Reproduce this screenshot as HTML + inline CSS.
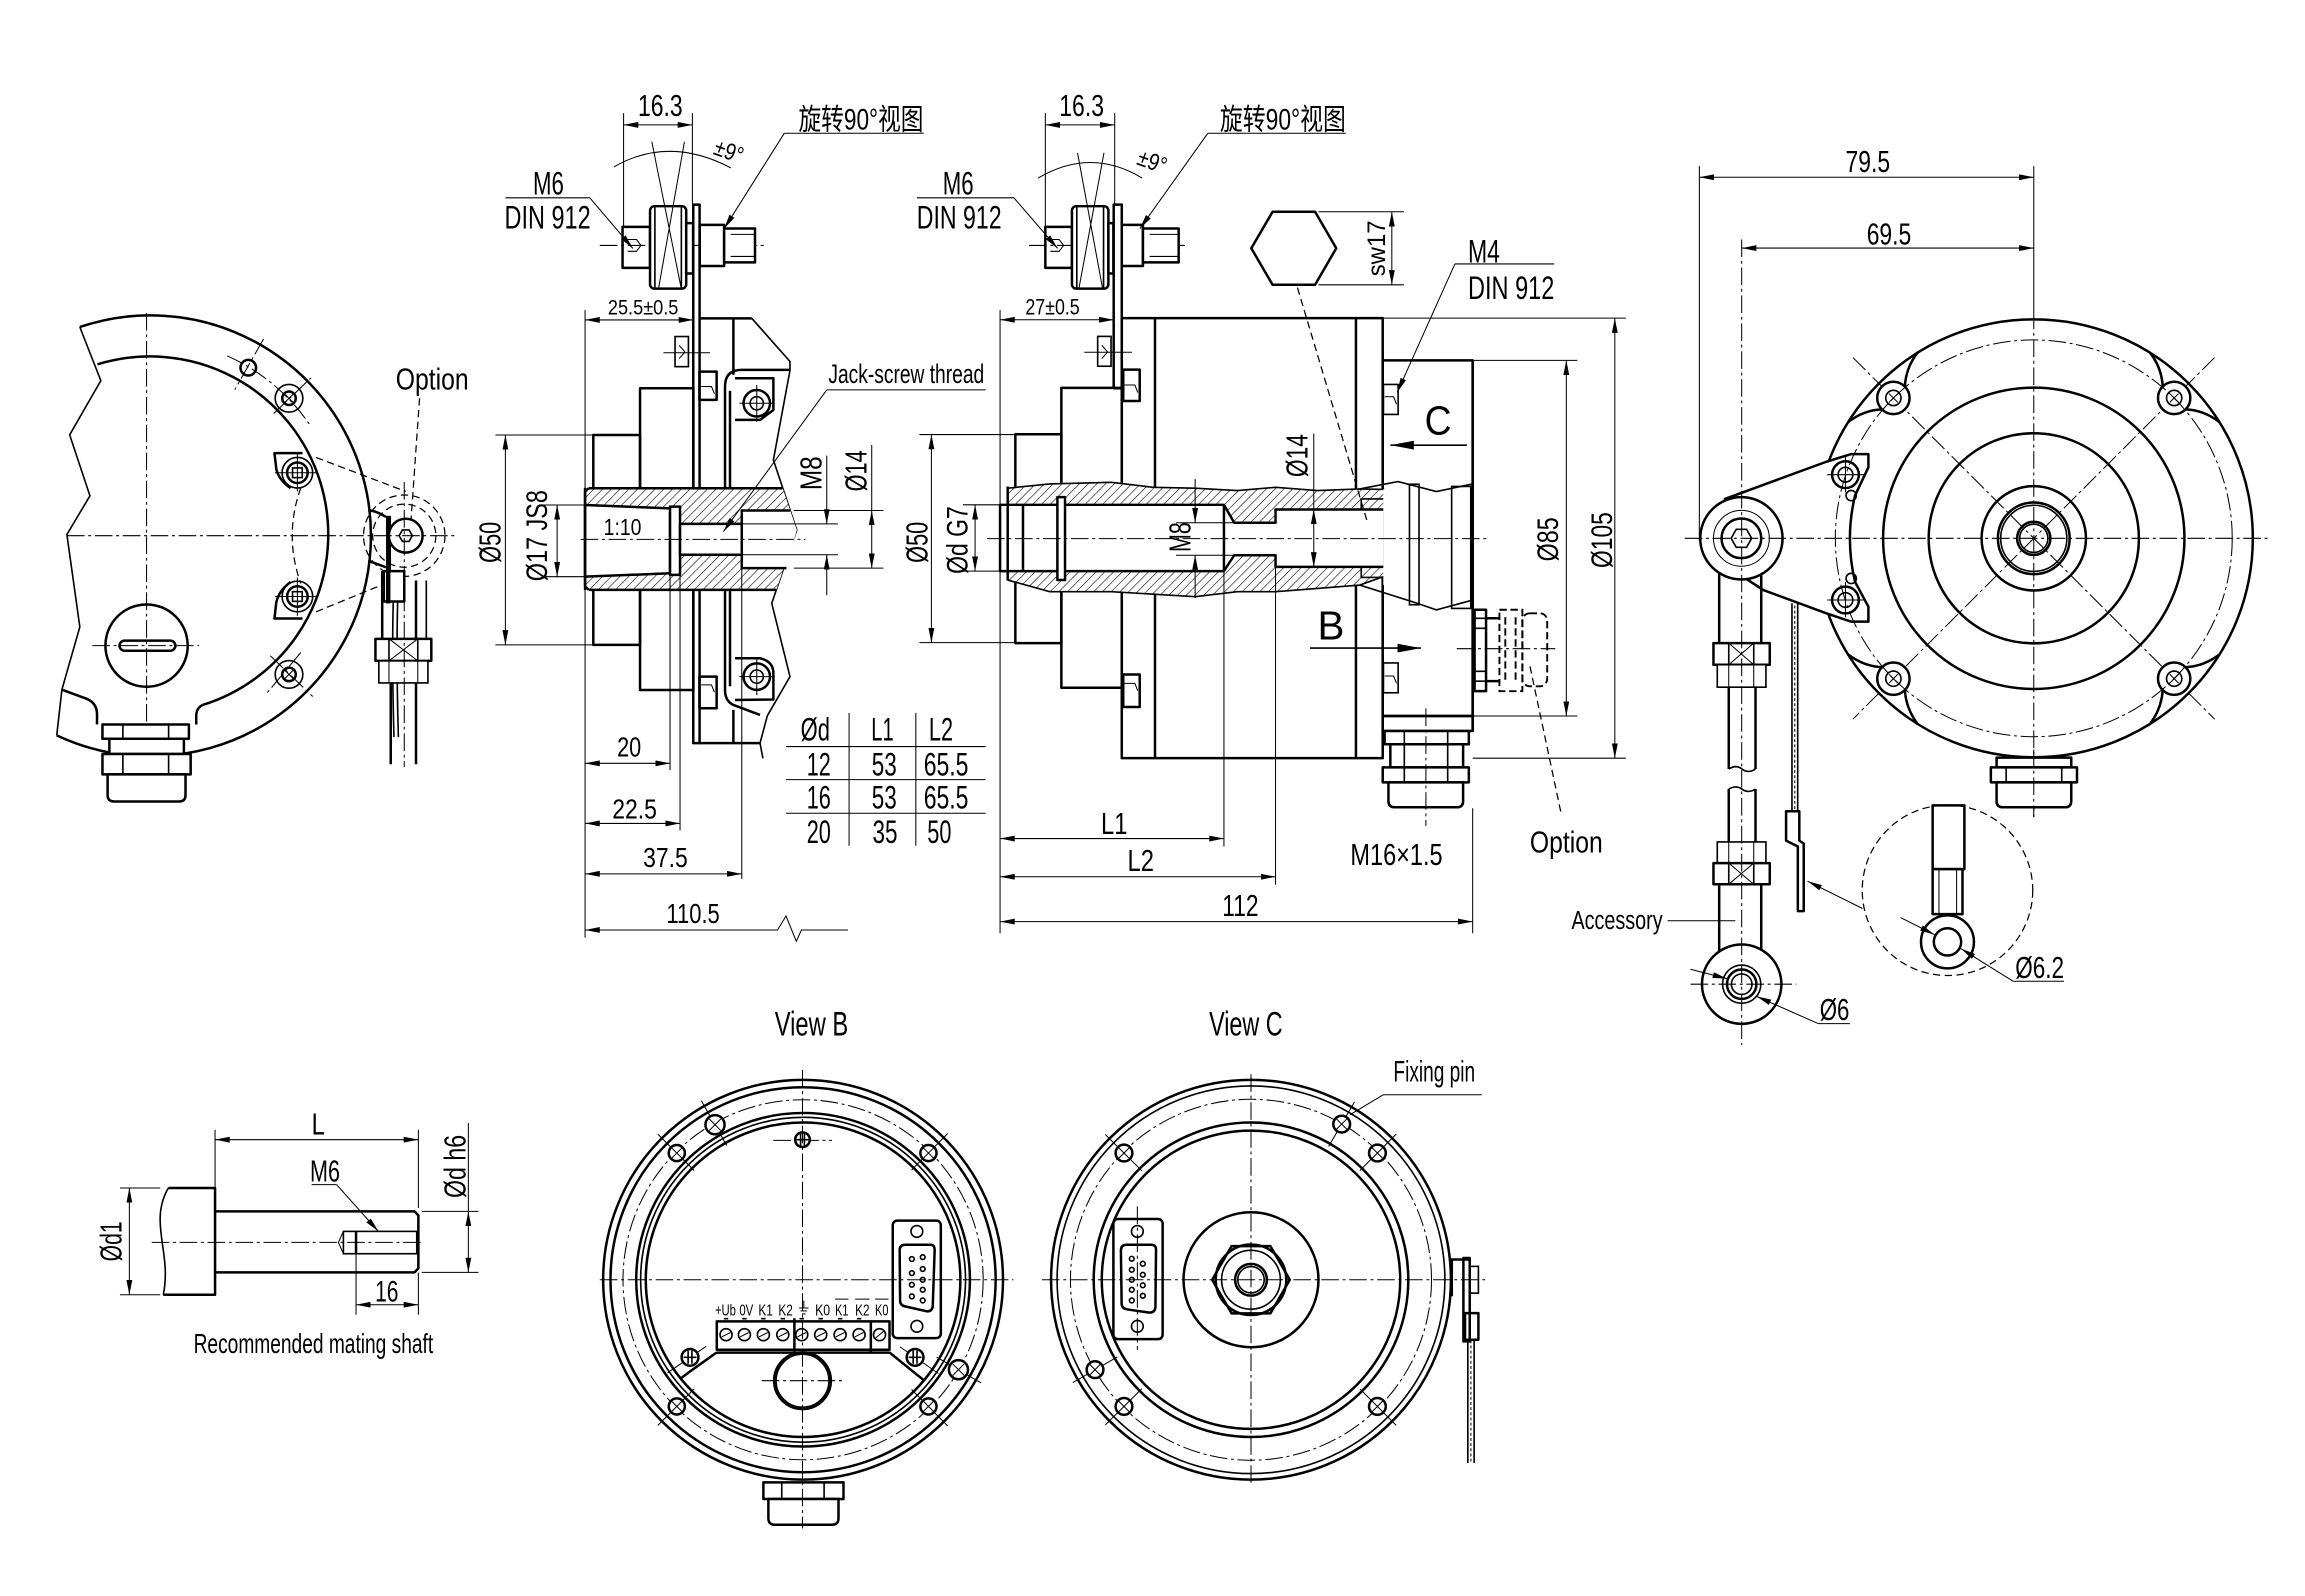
<!DOCTYPE html>
<html><head><meta charset="utf-8">
<style>
html,body{margin:0;padding:0;background:#fff;}
svg{display:block}
.k{stroke:#000;stroke-width:1.7;fill:none;stroke-linejoin:round}
.kw{stroke:#000;stroke-width:1.7;fill:#fff;stroke-linejoin:round}
.m{stroke:#000;stroke-width:1.1;fill:none}
.mw{stroke:#000;stroke-width:1.1;fill:#fff}
.h{stroke:#000;stroke-width:0.7;fill:none}
.c{stroke:#000;stroke-width:0.7;fill:none;stroke-dasharray:12 2.5 2 2.5}
.d{stroke:#000;stroke-width:0.85;fill:none;stroke-dasharray:5 3}
.dk{stroke:#000;stroke-width:1.3;fill:none;stroke-dasharray:5 2.5}
text{font-family:"Liberation Sans","Noto Sans CJK SC",sans-serif;fill:#000}
</style></head><body>
<svg width="2305" height="1596" viewBox="0 0 1568 1086" preserveAspectRatio="none" xmlns="http://www.w3.org/2000/svg">
<defs>
<marker id="a" viewBox="0 0 10 4" refX="10" refY="2" markerWidth="10" markerHeight="4" markerUnits="userSpaceOnUse" orient="auto-start-reverse"><path d="M0,0L10,2L0,4z" fill="#000"/></marker>
<marker id="b" viewBox="0 0 16 6" refX="16" refY="3" markerWidth="16" markerHeight="6" markerUnits="userSpaceOnUse" orient="auto"><path d="M0,0L16,3L0,6z" fill="#000"/></marker>
<pattern id="hp" patternUnits="userSpaceOnUse" width="4.2" height="4.2" patternTransform="rotate(45)"><rect width="4.2" height="4.2" fill="#fff"/><line x1="0" y1="0" x2="0" y2="4.2" stroke="#000" stroke-width="0.8"/></pattern>
<pattern id="dp" patternUnits="userSpaceOnUse" width="3" height="3"><rect width="3" height="3" fill="#fff"/><circle cx="1.5" cy="1.5" r="0.8" fill="#000"/></pattern>
<pattern id="xp" patternUnits="userSpaceOnUse" width="7" height="7"><rect width="7" height="7" fill="#fff"/><path d="M0,0L7,7M7,0L0,7" stroke="#000" stroke-width="0.6"/></pattern>
</defs>
<rect x="0" y="0" width="1568" height="1086" fill="#fff"/>

<!-- ================= LEFT SIDE VIEW ================= -->
<path class="k" d="M54.3,222.5 A150,150 0 1 1 38.6,500.4"/>
<path class="k" d="M66.3,247.9 A121,121 0 0 1 137.8,479.7"/>
<polyline class="m" points="54.3,222.5 68.6,259 47.4,295.9 61.2,337.4 45.5,363.7 54.3,426.6 42.1,469.3 38.6,500.4"/>
<path class="k" d="M42.1,469.3 L59,475.5 Q66,478.5 66,486 L66,493 M133.5,493 L133.5,486 Q134,481.5 137.8,479.7"/>
<circle class="k" cx="99.7" cy="439.3" r="28"/>
<rect class="k" x="81.3" y="435.9" width="38" height="6.9" rx="3.45"/>
<line class="c" x1="62.8" y1="439.3" x2="135.5" y2="439.3"/>
<path class="c" d="M154.5,242.1 A134,134 0 0 1 211.1,289.6"/>
<circle class="k" cx="168.9" cy="250.2" r="5.3"/>
<line class="c" x1="179.3" y1="230.6" x2="159.7" y2="265.2"/>
<circle class="m" cx="196.6" cy="271" r="9.4"/>
<circle class="k" cx="196.6" cy="271" r="4.6"/>
<path class="h" d="M193.4,267.8L199.8,274.2M199.8,267.8L193.4,274.2"/>
<line class="c" x1="186.2" y1="281.4" x2="211.6" y2="257.1"/>
<circle class="m" cx="196.6" cy="458.9" r="9.4"/>
<circle class="k" cx="196.6" cy="458.9" r="4.6"/>
<path class="h" d="M193.4,455.7L199.8,462.1M199.8,455.7L193.4,462.1"/>
<line class="c" x1="183.9" y1="446.2" x2="212.7" y2="473.9"/>
<line class="c" x1="204.6" y1="444" x2="181.6" y2="471.6"/>
<path class="k" d="M205.8,308.3 L186.7,308.3 L188,319.4 Q190,327 197.7,332.1"/>
<path class="k" d="M205.8,420.9 L186.7,420.9 L188,409.5 Q190,401.5 197.7,396"/>
<circle class="m" cx="202.3" cy="321.7" r="10.4"/>
<circle class="k" cx="202.3" cy="321.7" r="7"/>
<rect class="m" x="199" y="318.4" width="6.6" height="6.6"/>
<line class="h" x1="187" y1="321.7" x2="216" y2="321.7"/>
<line class="h" x1="202.3" y1="309" x2="202.3" y2="334.4"/>
<circle class="m" cx="202.3" cy="405.9" r="10.4"/>
<circle class="k" cx="202.3" cy="405.9" r="7"/>
<rect class="m" x="199" y="402.6" width="6.6" height="6.6"/>
<line class="h" x1="187" y1="405.9" x2="216" y2="405.9"/>
<line class="h" x1="202.3" y1="393" x2="202.3" y2="419"/>
<path class="d" d="M204.6,332 Q193,364.5 204.6,397"/>
<line class="d" x1="215" y1="311.3" x2="276" y2="334.4"/>
<line class="d" x1="215" y1="416.3" x2="271.5" y2="393.2"/>
<circle class="d" cx="275" cy="364.5" r="27.7"/>
<circle class="d" cx="275" cy="364.5" r="21.5"/>
<path class="k" d="M250.5,347 Q257,348 262.6,351.8 M250.5,381.5 Q257,384 262.6,386"/>
<path class="m" d="M267.5,409.3 Q266.5,450 268,501.6 M270.5,409.3 Q269.5,450 271,501.6"/>
<line class="k" x1="260" y1="388.6" x2="260" y2="434.7"/>
<line class="k" x1="283" y1="395" x2="283" y2="434.7"/>
<line class="m" x1="290" y1="395" x2="290" y2="434.7"/>
<rect class="kw" x="255.4" y="434.7" width="38" height="15"/>
<path class="m" d="M264.6,434.7V449.7M284.2,434.7V449.7"/>
<path class="h" d="M264.6,434.7L284.2,449.7M284.2,434.7L264.6,449.7"/>
<rect class="mw" x="257.7" y="449.7" width="33.4" height="15"/>
<path class="h" d="M264.6,449.7V464.7M284.2,449.7V464.7"/>
<line class="k" x1="265.8" y1="464.7" x2="265.8" y2="520"/>
<line class="k" x1="283" y1="464.7" x2="283" y2="520"/>
<rect x="262.6" y="351" width="3.4" height="38" fill="#000"/>
<circle class="kw" cx="276" cy="364.5" r="11.5"/>
<polygon class="m" points="280.5,364.5 278.25,368.4 273.75,368.4 271.5,364.5 273.75,360.6 278.25,360.6"/>
<rect class="kw" x="261.1" y="388.6" width="13.9" height="20.7"/>
<rect x="262.6" y="388.6" width="3" height="22" fill="#000"/>
<line class="c" x1="275" y1="328" x2="275" y2="522"/>
<text x="294" y="265" font-size="20.5" text-anchor="middle" textLength="49.6" lengthAdjust="spacingAndGlyphs">Option</text>
<line class="d" x1="285.4" y1="271" x2="279.6" y2="354"/>
<line class="c" x1="99.7" y1="213" x2="99.7" y2="518"/>
<line class="c" x1="45.5" y1="364.5" x2="309.6" y2="364.5"/>
<rect class="kw" x="69.7" y="493" width="58.8" height="9.7"/>
<path class="m" d="M83.6,493V502.7M114.7,493V502.7"/>
<rect class="kw" x="74.4" y="502.7" width="50.7" height="10.4"/>
<rect class="kw" x="69.7" y="513.1" width="60" height="13.8"/>
<path class="m" d="M83.6,513.1V526.9M114.7,513.1V526.9"/>
<path class="kw" d="M73.2,526.9 H126.2 V541 Q126.2,545.4 121.8,545.4 H77.6 Q73.2,545.4 73.2,541 Z"/>

<!-- ================= MIDDLE-LEFT SECTION ================= -->
<line class="c" x1="408" y1="167" x2="520" y2="167"/>
<rect class="k" x="423.5" y="154.4" width="18.7" height="27.9"/>
<path class="h" d="M427,163 L433,163 L436,167 L433,171 L427,171"/>
<rect class="kw" x="442.2" y="140.3" width="24.6" height="56.1" rx="3"/>
<path class="m" d="M445.5,141V196M463.5,141V196"/>
<rect class="kw" x="466.8" y="151.8" width="4.7" height="34.3"/>
<rect class="kw" x="476" y="153" width="16.6" height="28"/>
<rect class="kw" x="492.6" y="155.5" width="21" height="23"/>
<path class="h" d="M497,159.5H513M497,174.5H513"/>
<path class="h" d="M443.4,96.4L463.3,195.7M465.6,96.4L448.1,195.7"/>
<path class="h" d="M424.2,77V154M471,77V139"/>
<line class="h" x1="424.2" y1="85" x2="471" y2="85" marker-start="url(#a)" marker-end="url(#a)"/>
<text x="449.2" y="79" font-size="21" text-anchor="middle" textLength="30.4" lengthAdjust="spacingAndGlyphs">16.3</text>
<path class="h" d="M417.6,113.6 Q455,92 497.2,114.3"/>
<text transform="translate(494,108) rotate(20)" font-size="16" text-anchor="middle" textLength="20" lengthAdjust="spacingAndGlyphs">±9°</text>
<text x="373.1" y="132.5" font-size="22" text-anchor="middle" textLength="21" lengthAdjust="spacingAndGlyphs">M6</text>
<text x="372.5" y="155.5" font-size="22" text-anchor="middle" textLength="58.6" lengthAdjust="spacingAndGlyphs">DIN 912</text>
<polyline class="h" points="343.8,134.6 401.2,134.6 430.5,169" marker-end="url(#a)"/>
<text x="585.7" y="88" font-size="20" text-anchor="middle" textLength="85" lengthAdjust="spacingAndGlyphs">旋转90°视图</text>
<line class="h" x1="533.5" y1="90.7" x2="628.4" y2="90.7"/>
<line class="h" x1="533.5" y1="90.7" x2="492.6" y2="155.6" marker-end="url(#a)"/>
<text x="437.5" y="214" font-size="14.5" text-anchor="middle" textLength="48" lengthAdjust="spacingAndGlyphs">25.5±0.5</text>
<line class="h" x1="398" y1="217.7" x2="471.7" y2="217.7" marker-start="url(#a)" marker-end="url(#a)"/>
<line class="h" x1="398" y1="211" x2="398" y2="638"/>
<!-- body -->
<rect class="k" x="403.6" y="296" width="31.8" height="142.8"/>
<rect class="k" x="435.4" y="264.2" width="36.3" height="205.3"/>
<rect class="k" x="471.6" y="139.2" width="4.3" height="366.5"/>
<line class="k" x1="475.8" y1="216.6" x2="511.4" y2="216.6"/>
<line class="k" x1="475.8" y1="505.7" x2="517" y2="505.7"/>
<path class="k" d="M498.9,216.6V255M498.9,483V505.7"/>
<path class="k" d="M537.4,251.7 L504.6,251.7 Q493.2,251.7 493.2,263 L493.2,469.5 Q493.2,477 498.9,479.7 L517,486.5"/>
<path class="k" d="M496.6,266 L496.6,467"/>
<path class="k" d="M500,257.4 L526.1,257.4 L526.1,279 L517,285.7 L500,285.7"/>
<path class="k" d="M500,447.9 L517,447.9 Q526.1,450 526.1,458 L526.1,476 L500,476.3"/>
<circle class="k" cx="514.8" cy="274.4" r="9"/><circle class="m" cx="514.8" cy="274.4" r="4.5"/>
<path class="h" d="M503,274.4H527M514.8,262V287"/>
<circle class="k" cx="514.8" cy="460.4" r="9"/><circle class="m" cx="514.8" cy="460.4" r="4.5"/>
<path class="h" d="M503,460.4H527M514.8,448V473"/>
<rect class="k" x="475.8" y="252.9" width="11.7" height="19.2"/>
<path class="h" d="M477,263H484L486,268"/>
<rect class="k" x="475.8" y="460.4" width="11.7" height="21.5"/>
<path class="h" d="M477,466H484L486,471"/>
<rect class="m" x="459.2" y="229" width="9.1" height="20.5"/>
<path class="h" d="M462,235L466,239.5L462,244"/>
<line class="h" x1="451.3" y1="240" x2="483" y2="240"/>
<polyline class="m" points="511.4,216.6 537.4,246 537.4,252 526.1,313 542,360.6 525,410.5 537.4,460.4 522,487 517,505.7 519,516"/>
<!-- shaft -->
<polygon points="398,334.5 400.5,332.2 532.4,332.2 542,360.6 528.1,401.4 400.5,401.4 398,399" fill="url(#hp)"/>
<path class="k" d="M400.5,332.2H532.4M400.5,401.4H528.1M400.5,332.2L398,334.5V399L400.5,401.4"/>
<polygon class="kw" points="398,343.6 455.8,345.9 455.8,390.1 398,392.4"/>
<rect class="kw" x="455.8" y="344.7" width="6.8" height="46.5"/>
<rect class="kw" x="462.6" y="356.5" width="42" height="21"/>
<polygon points="504.6,347.4 537.5,347.4 542,360.6 535,386.6 504.6,386.6" fill="#fff"/>
<path class="k" d="M537.5,347.4H504.6V386.6H535"/>
<line class="k" x1="398" y1="332" x2="398" y2="401.5"/>
<text x="423.5" y="364" font-size="16" text-anchor="middle" textLength="25.7" lengthAdjust="spacingAndGlyphs">1:10</text>
<line class="c" x1="395" y1="367" x2="548" y2="367"/>
<!-- dims -->
<path class="h" d="M337,296H403.6M337,438.8H403.6"/>
<line class="h" x1="343.8" y1="296" x2="343.8" y2="438.8" marker-start="url(#a)" marker-end="url(#a)"/>
<text transform="translate(340.5,369) rotate(-90)" font-size="21" text-anchor="middle" textLength="28" lengthAdjust="spacingAndGlyphs">Ø50</text>
<path class="h" d="M370,343.6H398M370,392.4H398"/>
<line class="h" x1="379" y1="343.6" x2="379" y2="392.4" marker-start="url(#a)" marker-end="url(#a)"/>
<text transform="translate(372,364.5) rotate(-90)" font-size="20" text-anchor="middle" textLength="62" lengthAdjust="spacingAndGlyphs">Ø17 JS8</text>
<path class="h" d="M505,356.5H570M505,377.5H570"/>
<line class="h" x1="562.4" y1="310" x2="562.4" y2="356.5" marker-end="url(#a)"/>
<line class="h" x1="562.4" y1="405" x2="562.4" y2="377.5" marker-end="url(#a)"/>
<text transform="translate(559,322) rotate(-90)" font-size="21" text-anchor="middle" textLength="23" lengthAdjust="spacingAndGlyphs">M8</text>
<path class="h" d="M540,347.4H601M540,386.6H601"/>
<line class="h" x1="593" y1="347.4" x2="593" y2="386.6" marker-start="url(#a)" marker-end="url(#a)"/>
<line class="h" x1="593" y1="302.8" x2="593" y2="347.4"/>
<text transform="translate(589.5,320.4) rotate(-90)" font-size="21" text-anchor="middle" textLength="28" lengthAdjust="spacingAndGlyphs">Ø14</text>
<text x="616.5" y="260.5" font-size="18.5" text-anchor="middle" textLength="106" lengthAdjust="spacingAndGlyphs">Jack-screw thread</text>
<line class="h" x1="562.4" y1="265.3" x2="670.5" y2="265.3"/>
<line class="h" x1="562.4" y1="265.3" x2="492.1" y2="361.7" marker-end="url(#a)"/>
<path class="h" d="M455.8,390V524M462.6,391V565M504.6,386.6V598"/>
<line class="h" x1="398" y1="519.4" x2="455.8" y2="519.4" marker-start="url(#a)" marker-end="url(#a)"/>
<text x="428" y="514.8" font-size="19" text-anchor="middle" textLength="16.4" lengthAdjust="spacingAndGlyphs">20</text>
<line class="h" x1="398" y1="560.3" x2="462.6" y2="560.3" marker-start="url(#a)" marker-end="url(#a)"/>
<text x="431.7" y="557" font-size="19" text-anchor="middle" textLength="30.4" lengthAdjust="spacingAndGlyphs">22.5</text>
<line class="h" x1="398" y1="594.6" x2="504.6" y2="594.6" marker-start="url(#a)" marker-end="url(#a)"/>
<text x="452.7" y="590" font-size="19" text-anchor="middle" textLength="30.4" lengthAdjust="spacingAndGlyphs">37.5</text>
<path class="h" d="M398,632.8H528.9L534.7,623.3L541.7,640.5L545.2,632.8H576.9" marker-start="url(#a)"/>
<text x="471.5" y="628" font-size="19" text-anchor="middle" textLength="36.3" lengthAdjust="spacingAndGlyphs">110.5</text>
<!-- table -->
<path class="h" d="M534.7,508H670.5M534.7,530.5H670.5M534.7,553.4H670.5M577.6,485.1V575.5M623,485.1V575.5"/>
<g font-size="22" text-anchor="middle">
<text x="554.6" y="504" textLength="19.9" lengthAdjust="spacingAndGlyphs">Ød</text>
<text x="600.3" y="504" textLength="15.2" lengthAdjust="spacingAndGlyphs">L1</text>
<text x="640.1" y="504" textLength="16.4" lengthAdjust="spacingAndGlyphs">L2</text>
<text x="557" y="527.7" textLength="16.4" lengthAdjust="spacingAndGlyphs">12</text>
<text x="601.5" y="527.7" textLength="17" lengthAdjust="spacingAndGlyphs">53</text>
<text x="643.6" y="527.7" textLength="30.4" lengthAdjust="spacingAndGlyphs">65.5</text>
<text x="557" y="550.2" textLength="16.4" lengthAdjust="spacingAndGlyphs">16</text>
<text x="601.5" y="550.2" textLength="17" lengthAdjust="spacingAndGlyphs">53</text>
<text x="643.6" y="550.2" textLength="30.4" lengthAdjust="spacingAndGlyphs">65.5</text>
<text x="557" y="573.5" textLength="16.4" lengthAdjust="spacingAndGlyphs">20</text>
<text x="602" y="573.5" textLength="17" lengthAdjust="spacingAndGlyphs">35</text>
<text x="639" y="573.5" textLength="16.4" lengthAdjust="spacingAndGlyphs">50</text>
</g>

<!-- ================= MIDDLE-RIGHT SECTION ================= -->
<line class="c" x1="700" y1="167" x2="806" y2="167"/>
<rect class="k" x="711.1" y="154.4" width="18.1" height="27.9"/>
<path class="h" d="M714.5,163 L720.5,163 L723.5,167 L720.5,171 L714.5,171"/>
<rect class="kw" x="729.2" y="140.3" width="24.8" height="56.1" rx="3"/>
<path class="m" d="M732.5,141V196M750.7,141V196"/>
<rect class="kw" x="754" y="151.8" width="3.4" height="34.3"/>
<rect class="kw" x="757.6" y="139.2" width="5.5" height="125"/>
<rect class="kw" x="763.1" y="153" width="14.4" height="28"/>
<rect class="kw" x="777.5" y="155.5" width="24.3" height="23"/>
<path class="h" d="M782,159.5H801M782,174.5H801"/>
<path class="h" d="M733,104L750,196M751,104L734,196"/>
<path class="h" d="M711.1,77V154M758.3,77V139"/>
<line class="h" x1="711.1" y1="85" x2="758.3" y2="85" marker-start="url(#a)" marker-end="url(#a)"/>
<text x="735.8" y="79" font-size="21" text-anchor="middle" textLength="30.4" lengthAdjust="spacingAndGlyphs">16.3</text>
<path class="h" d="M706.2,121.2 Q742,100 777,121.2"/>
<text transform="translate(782,115) rotate(20)" font-size="16" text-anchor="middle" textLength="20" lengthAdjust="spacingAndGlyphs">±9°</text>
<text x="651.8" y="132.5" font-size="22" text-anchor="middle" textLength="21" lengthAdjust="spacingAndGlyphs">M6</text>
<text x="652.5" y="155.5" font-size="22" text-anchor="middle" textLength="57.7" lengthAdjust="spacingAndGlyphs">DIN 912</text>
<polyline class="h" points="623.7,134.6 689.7,134.6 719.4,169" marker-end="url(#a)"/>
<text x="872.7" y="88" font-size="20" text-anchor="middle" textLength="85.7" lengthAdjust="spacingAndGlyphs">旋转90°视图</text>
<line class="h" x1="821.6" y1="90.7" x2="915.5" y2="90.7"/>
<line class="h" x1="821.6" y1="90.7" x2="775.4" y2="155.6" marker-end="url(#a)"/>
<text x="716" y="214" font-size="15" text-anchor="middle" textLength="37" lengthAdjust="spacingAndGlyphs">27±0.5</text>
<line class="h" x1="680.3" y1="217.6" x2="757.6" y2="217.6" marker-start="url(#a)" marker-end="url(#a)"/>
<line class="h" x1="680.3" y1="211" x2="680.3" y2="635"/>
<!-- body -->
<rect class="k" x="690.7" y="295.5" width="31.3" height="142.1"/>
<rect class="k" x="722" y="263.9" width="41.1" height="204.1"/>
<rect class="k" x="763.1" y="216.5" width="177.5" height="299.4"/>
<path class="k" d="M785.7,216.5V515.9M922.4,216.5V515.9"/>
<rect class="k" x="764.1" y="251.5" width="11.2" height="21.4"/>
<path class="h" d="M765,262H772L774,267"/>
<rect class="k" x="764.1" y="459" width="11.2" height="22.1"/>
<path class="h" d="M765,465H772L774,470"/>
<rect class="m" x="746.7" y="228.9" width="9.1" height="20.3"/>
<path class="h" d="M749.5,235L753.5,239.5L749.5,244"/>
<line class="h" x1="737.6" y1="239.7" x2="770" y2="239.7"/>
<rect class="k" x="940.6" y="245.2" width="61.2" height="242"/>
<rect class="k" x="940.6" y="487.2" width="61.2" height="10.2"/>
<rect class="m" x="941.1" y="261.6" width="10" height="20.4"/>
<path class="h" d="M942,270H948L950,275"/>
<rect class="m" x="941.1" y="451.1" width="10" height="20.3"/>
<path class="h" d="M942,460H948L950,465"/>
<rect class="kw" x="941.9" y="497.4" width="57.3" height="9"/>
<rect class="kw" x="945.8" y="506.4" width="49.5" height="15.8"/>
<path class="m" d="M955.3,497.4V522.2M984.8,497.4V522.2"/>
<rect class="kw" x="940.6" y="522.2" width="58.6" height="10.2"/>
<path class="m" d="M955.3,522.2V532.4M984.8,522.2V532.4"/>
<path class="kw" d="M944.5,532.4H995.3V545Q995.3,549.3 991,549.3H948.8Q944.5,549.3 944.5,545Z"/>
<line class="c" x1="970" y1="482" x2="970" y2="562"/>
<!-- shaft section -->
<polygon points="685.5,332.2 714.1,329.3 755.8,328.2 784.4,331.6 813,332.2 841.7,333.8 867.7,331.6 896.3,333.8 925,332.7 942,333 942,392 925,398.1 896.3,400.4 867.7,402.6 841.7,402.6 813,406 755.8,402.6 714.1,402.6 685.5,394.7" fill="url(#hp)"/>
<polyline class="m" points="685.5,332.2 714.1,329.3 755.8,328.2 784.4,331.6 813,332.2 841.7,333.8 867.7,331.6 896.3,333.8 925,332.7 942,333"/>
<polyline class="m" points="685.5,394.7 714.1,402.6 755.8,402.6 813,406 841.7,402.6 867.7,402.6 896.3,400.4 925,398.1 942,392"/>
<path class="kw" d="M680.3,343.5 L832.6,343.5 L839.6,355.7 L867.7,355.7 L867.7,346.7 L941.9,346.7 L941.9,385.7 L867.7,385.7 L867.7,377.8 L839.6,377.8 L832.6,388.6 L680.3,388.6 Z"/>
<path class="k" d="M832.6,343.5V388.6"/>
<rect class="kw" x="719.3" y="338.3" width="5.2" height="56.4"/>
<path class="k" d="M685.5,331V395M695.9,343.5V388.6"/>
<rect class="m" x="926" y="339.5" width="15.9" height="7.2" fill="url(#hp)"/>
<rect class="m" x="926" y="385.7" width="15.9" height="7.2" fill="url(#hp)"/>
<!-- rear cut -->
<polygon points="941,333 951,327.7 977.1,334.5 1001.8,329.3 1001.8,408.3 977.1,415 964,410.5 941,398" fill="#fff"/>
<polyline class="m" points="925,332.7 951,327.7 977.1,334.5 1001.8,329.3"/>
<polyline class="m" points="925,398.1 964,410.5 977.1,415 1001.8,408.3"/>
<rect class="m" x="958.8" y="329.5" width="6.5" height="82" fill="url(#dp)"/>
<rect class="m" x="987.5" y="331" width="13" height="83" fill="url(#hp)"/>
<line class="k" x1="1001.8" y1="245.2" x2="1001.8" y2="497.4"/>
<line class="c" x1="671.5" y1="366.5" x2="1011" y2="366.5"/>
<!-- hexagon sw17 -->
<polygon class="k" points="851.2,168.9 865.7,144.1 894.6,144.1 909,168.9 894.6,193.8 865.7,193.8"/>
<path class="h" d="M897,144.1H955M897,193.8H955"/>
<line class="h" x1="946.8" y1="144.1" x2="946.8" y2="193.8" marker-start="url(#a)" marker-end="url(#a)"/>
<text transform="translate(942,169) rotate(-90)" font-size="17" text-anchor="middle" textLength="38" lengthAdjust="spacingAndGlyphs">sw17</text>
<line class="d" x1="882.6" y1="195.7" x2="930.4" y2="356"/>
<text x="1009.5" y="178.5" font-size="22" text-anchor="middle" textLength="21.8" lengthAdjust="spacingAndGlyphs">M4</text>
<text x="1028" y="203.3" font-size="22" text-anchor="middle" textLength="58.7" lengthAdjust="spacingAndGlyphs">DIN 912</text>
<line class="h" x1="989.7" y1="179.6" x2="1057.3" y2="179.6"/>
<line class="h" x1="989.7" y1="179.6" x2="950.5" y2="267" marker-end="url(#a)"/>
<text x="978.3" y="295.5" font-size="28" text-anchor="middle" textLength="18.3" lengthAdjust="spacingAndGlyphs">C</text>
<line class="m" x1="997.9" y1="302.9" x2="945.8" y2="302.9" marker-end="url(#b)"/>
<text x="905.4" y="435.3" font-size="28" text-anchor="middle" textLength="18.3" lengthAdjust="spacingAndGlyphs">B</text>
<line class="m" x1="891.1" y1="441" x2="966.6" y2="441" marker-end="url(#b)"/>
<!-- side gland option -->
<rect class="k" x="1003.1" y="414.9" width="7.8" height="55.4"/>
<path class="m" d="M1003.1,420.7H1010.9M1003.1,427.5H1010.9M1003.1,456.8H1010.9M1003.1,463.5H1010.9"/>
<path class="k" d="M1010.9,420.7H1020M1010.9,463.5H1020"/>
<rect class="dk" x="1020" y="414.9" width="15.6" height="55.4"/>
<path class="dk" d="M1024,420V465M1031,420V465"/>
<rect class="dk" x="1035.6" y="417.3" width="16.9" height="49.7" rx="5"/>
<line class="c" x1="991" y1="441.4" x2="1058" y2="441.4"/>
<!-- dims -->
<path class="h" d="M625.4,295.7H689.7M625.4,437.3H689.7"/>
<line class="h" x1="633.6" y1="295.7" x2="633.6" y2="437.3" marker-start="url(#a)" marker-end="url(#a)"/>
<text transform="translate(631,369) rotate(-90)" font-size="21" text-anchor="middle" textLength="28" lengthAdjust="spacingAndGlyphs">Ø50</text>
<path class="h" d="M655,343.5H681M655,388.6H681"/>
<line class="h" x1="663.3" y1="343.5" x2="663.3" y2="388.6" marker-start="url(#a)" marker-end="url(#a)"/>
<text transform="translate(658,367.5) rotate(-90)" font-size="20" text-anchor="middle" textLength="46" lengthAdjust="spacingAndGlyphs">Ød G7</text>
<path class="h" d="M800,355.7H839M800,377.8H839"/>
<line class="h" x1="813" y1="326" x2="813" y2="355.7" marker-end="url(#a)"/>
<line class="h" x1="813" y1="407" x2="813" y2="377.8" marker-end="url(#a)"/>
<text transform="translate(810,365.5) rotate(-90)" font-size="21" text-anchor="middle" textLength="20.3" lengthAdjust="spacingAndGlyphs">M8</text>
<line class="h" x1="893.7" y1="346.7" x2="893.7" y2="385.7" marker-start="url(#a)" marker-end="url(#a)"/>
<line class="h" x1="893.7" y1="295" x2="893.7" y2="346.7"/>
<text transform="translate(889.5,310) rotate(-90)" font-size="21" text-anchor="middle" textLength="29.3" lengthAdjust="spacingAndGlyphs">Ø14</text>
<path class="h" d="M1001.8,245.2H1073M1001.8,487.2H1073"/>
<line class="h" x1="1065.5" y1="245.2" x2="1065.5" y2="487.2" marker-start="url(#a)" marker-end="url(#a)"/>
<text transform="translate(1060,367) rotate(-90)" font-size="20" text-anchor="middle" textLength="30" lengthAdjust="spacingAndGlyphs">Ø85</text>
<path class="h" d="M940.6,216.5H1106M1001.8,515.9H1106"/>
<line class="h" x1="1098.5" y1="216.5" x2="1098.5" y2="515.9" marker-start="url(#a)" marker-end="url(#a)"/>
<text transform="translate(1096.5,367.5) rotate(-90)" font-size="20" text-anchor="middle" textLength="38" lengthAdjust="spacingAndGlyphs">Ø105</text>
<text x="1065.5" y="580" font-size="20.5" text-anchor="middle" textLength="49.5" lengthAdjust="spacingAndGlyphs">Option</text>
<line class="d" x1="1040.8" y1="453.4" x2="1062.2" y2="554.6"/>
<text x="950" y="588.5" font-size="21" text-anchor="middle" textLength="62.7" lengthAdjust="spacingAndGlyphs">M16×1.5</text>
<path class="h" d="M832.6,388.6V576M867.7,386V602M1001.8,550V635"/>
<line class="h" x1="680.3" y1="570.6" x2="832.6" y2="570.6" marker-start="url(#a)" marker-end="url(#a)"/>
<text x="758" y="567.5" font-size="21" text-anchor="middle" textLength="18" lengthAdjust="spacingAndGlyphs">L1</text>
<line class="h" x1="680.3" y1="596.6" x2="867.7" y2="596.6" marker-start="url(#a)" marker-end="url(#a)"/>
<text x="776" y="592.7" font-size="21" text-anchor="middle" textLength="18" lengthAdjust="spacingAndGlyphs">L2</text>
<line class="h" x1="680.3" y1="627.1" x2="1001.8" y2="627.1" marker-start="url(#a)" marker-end="url(#a)"/>
<text x="843.8" y="623.3" font-size="21" text-anchor="middle" textLength="24.7" lengthAdjust="spacingAndGlyphs">112</text>

<!-- ================= RIGHT VIEW ================= -->
<path class="h" d="M1156,113V368"/>
<line class="h" x1="1383.5" y1="113" x2="1383.5" y2="212"/>
<line class="h" x1="1156" y1="120.6" x2="1383.5" y2="120.6" marker-start="url(#a)" marker-end="url(#a)"/>
<text x="1270.6" y="117" font-size="21" text-anchor="middle" textLength="30.3" lengthAdjust="spacingAndGlyphs">79.5</text>
<line class="h" x1="1184.8" y1="168.8" x2="1383.5" y2="168.8" marker-start="url(#a)" marker-end="url(#a)"/>
<text x="1285" y="166.5" font-size="21" text-anchor="middle" textLength="30.3" lengthAdjust="spacingAndGlyphs">69.5</text>
<circle class="k" cx="1383.5" cy="366.3" r="149"/>
<circle class="k" cx="1383.5" cy="366.3" r="102.5"/>
<circle class="k" cx="1383.5" cy="366.3" r="71.5"/>
<circle class="k" cx="1383.5" cy="366.3" r="35.5"/>
<circle class="k" cx="1383.5" cy="366.3" r="24.4"/>
<circle class="m" cx="1383.5" cy="366.3" r="22.5"/>
<circle class="k" cx="1383.5" cy="366.3" r="11.3"/>
<circle class="m" cx="1383.5" cy="366.3" r="9.6"/>
<line class="c" x1="1260.5" y1="243.3" x2="1506.5" y2="489.3"/>
<line class="c" x1="1506.5" y1="243.3" x2="1260.5" y2="489.3"/>
<!-- bosses -->
<path class="k" d="M1304.5,239.9 Q1296.5,250 1295.8,263 M1257.1,287.3 Q1268,279 1280.2,278.6"/>
<path class="k" d="M1462.5,239.9 Q1470.5,250 1471.2,263 M1509.9,287.3 Q1499,279 1486.8,278.6"/>
<path class="k" d="M1509.9,445.3 Q1499,453.5 1486.8,454 M1462.5,492.7 Q1470.5,482 1471.2,469.6"/>
<path class="k" d="M1304.5,492.7 Q1296.5,482 1295.8,469.6 M1257.1,445.3 Q1268,453.5 1280.2,454"/>
<g>
<circle class="kw" cx="1288" cy="270.8" r="11"/><circle class="m" cx="1288" cy="270.8" r="5.2"/><path class="h" d="M1285,267.8L1291,273.8M1291,267.8L1285,273.8"/>
<circle class="kw" cx="1479" cy="270.8" r="11"/><circle class="m" cx="1479" cy="270.8" r="5.2"/><path class="h" d="M1476,267.8L1482,273.8M1482,267.8L1476,273.8"/>
<circle class="kw" cx="1288" cy="461.8" r="11"/><circle class="m" cx="1288" cy="461.8" r="5.2"/><path class="h" d="M1285,458.8L1291,464.8M1291,458.8L1285,464.8"/>
<circle class="kw" cx="1479" cy="461.8" r="11"/><circle class="m" cx="1479" cy="461.8" r="5.2"/><path class="h" d="M1476,458.8L1482,464.8M1482,458.8L1476,464.8"/>
</g>
<!-- arm -->
<path class="kw" d="M1173.4,339.5 L1242.4,314.2 L1259.3,309 L1271,309 L1271,318 L1261.9,337.2 A127,127 0 0 0 1261.9,395.9 L1271,412.8 L1271,423 L1259.3,423 L1242.4,417.3 L1199.5,401.5 L1185,392 L1170,380 Z"/>
<circle class="c" cx="1383.5" cy="366.3" r="135"/>
<circle class="k" cx="1255.4" cy="323" r="9.1"/><circle class="m" cx="1255.4" cy="323" r="5"/>
<path class="h" d="M1243,323H1268M1255.4,311V335"/>
<circle class="k" cx="1255.4" cy="408.3" r="9.1"/><circle class="m" cx="1255.4" cy="408.3" r="5"/>
<path class="h" d="M1243,408.3H1268M1255.4,396V420"/>
<circle class="m" cx="1259.3" cy="337.2" r="3.5"/>
<circle class="m" cx="1259.3" cy="393.6" r="3.5"/>
<!-- rod -->
<path class="k" d="M1169.5,380V437.6M1198.1,380V437.6"/>
<rect class="kw" x="1165.6" y="437.6" width="38.3" height="14.7"/>
<path class="m" d="M1176,437.6V452.3M1193,437.6V452.3"/>
<path class="h" d="M1176,437.6L1193,452.3M1193,437.6L1176,452.3"/>
<rect class="mw" x="1168.2" y="452.3" width="33.1" height="15.3"/>
<path class="h" d="M1176,452.3V467.6M1193,452.3V467.6"/>
<path class="k" d="M1176,467.6V523.3M1194.2,467.6V523.3"/>
<path class="m" d="M1176,523.3Q1181,520 1185,523.3T1194.2,523.3"/>
<path class="m" d="M1176,537Q1181,534 1185,537T1194.2,537"/>
<path class="k" d="M1176,537V572.9M1194.2,537V572.9"/>
<rect class="mw" x="1168.2" y="572.9" width="33.1" height="14.4"/>
<path class="h" d="M1176,572.9V587.3M1193,572.9V587.3"/>
<rect class="kw" x="1165.6" y="587.3" width="38.3" height="14.4"/>
<path class="m" d="M1176,587.3V601.7M1193,587.3V601.7"/>
<path class="h" d="M1176,587.3L1193,601.7M1193,587.3L1176,601.7"/>
<path class="k" d="M1169.5,601.7V648M1198.1,601.7V648"/>
<circle class="kw" cx="1184.8" cy="669.7" r="27"/>
<circle class="m" cx="1184.8" cy="669.7" r="13"/>
<circle class="k" cx="1184.8" cy="669.7" r="10"/>
<circle class="m" cx="1184.8" cy="669.7" r="7"/>
<line class="c" x1="1150" y1="669.7" x2="1222" y2="669.7"/>
<!-- eye -->
<circle class="kw" cx="1184.6" cy="366.3" r="28"/>
<circle class="h" cx="1184.6" cy="366.3" r="19"/>
<circle class="k" cx="1184.6" cy="366.3" r="13.5"/>
<polygon class="m" points="1191.6,366.3 1188.1,372.4 1181.1,372.4 1177.6,366.3 1181.1,360.2 1188.1,360.2"/>
<line class="c" x1="1184.8" y1="163" x2="1184.8" y2="711"/>
<line class="c" x1="1146" y1="366.3" x2="1544" y2="366.3"/>
<line class="c" x1="1383.5" y1="212" x2="1383.5" y2="556"/>
<!-- cable + terminal -->
<path class="m" d="M1219,410.5V552M1222.9,410.5V552"/>
<path class="h" d="M1220.9,412V552" stroke-dasharray="2 1.5"/>
<polygon class="k" points="1215,552 1224,552 1224,572 1227,574 1227,620 1223,620 1223,576 1215,572"/>
<line class="h" x1="1267" y1="618.2" x2="1229.6" y2="599.6" marker-end="url(#a)"/>
<circle class="d" cx="1324.8" cy="605.8" r="58"/>
<rect class="k" x="1314.7" y="548" width="21.6" height="43.4" fill="url(#xp)"/>
<rect class="kw" x="1314.7" y="591.4" width="20.3" height="30.6"/>
<path class="h" d="M1319,592V622M1331,592V622"/>
<circle class="kw" cx="1324.8" cy="640.9" r="18"/>
<circle class="k" cx="1324.8" cy="640.9" r="9.3"/>
<line class="h" x1="1293" y1="624.4" x2="1316" y2="636" marker-end="url(#a)"/>
<line class="h" x1="1369.5" y1="667.7" x2="1334" y2="645.5" marker-end="url(#a)"/>
<line class="h" x1="1369.5" y1="667.7" x2="1404.1" y2="667.7"/>
<text x="1387.5" y="665.5" font-size="21" text-anchor="middle" textLength="33.2" lengthAdjust="spacingAndGlyphs">Ø6.2</text>
<text x="1100" y="632" font-size="17.5" text-anchor="middle" textLength="62" lengthAdjust="spacingAndGlyphs">Accessory</text>
<line class="h" x1="1134.4" y1="626.5" x2="1180.5" y2="626.5"/>
<text x="1248" y="694" font-size="21" text-anchor="middle" textLength="20.2" lengthAdjust="spacingAndGlyphs">Ø6</text>
<line class="h" x1="1236.8" y1="696.5" x2="1258.4" y2="696.5"/>
<line class="h" x1="1236.8" y1="696.5" x2="1195" y2="678" marker-end="url(#a)"/>
<line class="h" x1="1150" y1="659.5" x2="1175" y2="666" marker-end="url(#a)"/>
<!-- gland -->
<rect class="kw" x="1358.2" y="515.5" width="50.8" height="6.7"/>
<rect class="kw" x="1354.3" y="522.2" width="58.6" height="10.2"/>
<path class="m" d="M1364.7,522.2V532.4M1402.5,522.2V532.4"/>
<path class="kw" d="M1358.2,532.4H1409V545Q1409,549.3 1404.7,549.3H1362.5Q1358.2,549.3 1358.2,545Z"/>
<line class="c" x1="1383.5" y1="510" x2="1383.5" y2="556"/>

<!-- ================= VIEW B ================= -->
<text x="552" y="704.6" font-size="23.5" text-anchor="middle" textLength="50" lengthAdjust="spacingAndGlyphs">View B</text>
<circle class="k" cx="546.3" cy="870.8" r="136"/>
<circle class="k" cx="546.3" cy="870.8" r="131"/>
<circle class="c" cx="546.3" cy="870.8" r="122.5"/>
<circle class="k" cx="546.3" cy="870.8" r="113.5"/>
<circle class="m" cx="546.3" cy="870.8" r="110.5"/>
<circle class="k" cx="546.3" cy="870.8" r="107"/>
<path class="h" d="M494.4,779.5L477.1,749M472.2,796.5L447.5,771.7M620.1,796.1L644.7,771.3M472.2,945.1L447.5,969.9M620.1,945.5L644.7,970.3M637.1,923.4L667.4,941M480.4,916.1L454,934.2M612.1,916.4L638.4,934.6"/>
<g>
<circle class="kw" cx="486.4" cy="765.3" r="6.5"/><path class="h" d="M482.5,761.4L490.3,769.2M490.3,761.4L482.5,769.2"/>
<circle class="kw" cx="460.4" cy="784.6" r="5.5"/><path class="h" d="M457,781.2L463.8,788M463.8,781.2L457,788"/>
<circle class="kw" cx="631.6" cy="784.6" r="5.5"/><path class="h" d="M628.2,781.2L635,788M635,781.2L628.2,788"/>
<circle class="kw" cx="460.4" cy="957" r="5.5"/><path class="h" d="M457,953.6L463.8,960.4M463.8,953.6L457,960.4"/>
<circle class="kw" cx="631.6" cy="957" r="5.5"/><path class="h" d="M628.2,953.6L635,960.4M635,953.6L628.2,960.4"/>
<circle class="kw" cx="652" cy="932" r="6.5"/><path class="h" d="M648.1,928.1L655.9,935.9M655.9,928.1L648.1,935.9"/>
</g>
<line class="c" x1="526" y1="776" x2="566" y2="776"/>
<circle class="kw" cx="545.9" cy="775.5" r="5"/>
<path class="m" d="M544.6,771V780M547.2,771V780M541.5,775.5H550.3"/>
<!-- terminal block -->
<path class="k" d="M487.6,920.2L469.4,933.2L463,938M605,920.2L623.7,935.4L629,939.5"/>
<rect class="kw" x="487.6" y="899.1" width="117.5" height="19.3"/>
<line class="k" x1="487.6" y1="920.4" x2="605.1" y2="920.4"/>
<path class="k" d="M540.4,897V920M592.4,899V920"/>
<g class="m">
<circle cx="493.9" cy="908.2" r="4.1"/><circle cx="506.4" cy="908.2" r="4.1"/><circle cx="519.3" cy="908.2" r="4.1"/><circle cx="532.5" cy="908.2" r="4.1"/><circle cx="545.4" cy="908.2" r="4.1"/><circle cx="558.3" cy="908.2" r="4.1"/><circle cx="571.5" cy="908.2" r="4.1"/><circle cx="584.4" cy="908.2" r="4.1"/><circle cx="598.3" cy="908.2" r="4.1"/>
</g>
<path class="h" d="M490.9,909.7L496.9,906.7M503.4,909.7L509.4,906.7M516.3,909.7L522.3,906.7M529.5,909.7L535.5,906.7M542.4,909.7L548.4,906.7M555.3,909.7L561.3,906.7M568.5,909.7L574.5,906.7M581.4,909.7L587.4,906.7M595.3,910.7L601.3,905.7"/>
<path class="m" d="M492.4,897.3H495.4M504.9,897.3H507.9M517.8,897.3H520.8M531,897.3H534M543.9,897.3H546.9M556.8,897.3H559.8M570,897.3H573M582.9,897.3H585.9"/>
<g font-size="10.5" text-anchor="middle">
<text x="493.5" y="895.3" textLength="14.3" lengthAdjust="spacingAndGlyphs">+Ub</text>
<text x="507.7" y="895.3" textLength="9.5" lengthAdjust="spacingAndGlyphs">0V</text>
<text x="520.8" y="895.3" textLength="9.8" lengthAdjust="spacingAndGlyphs">K1</text>
<text x="534.4" y="895.3" textLength="9.8" lengthAdjust="spacingAndGlyphs">K2</text>
<text x="559.6" y="895.3" textLength="10.2" lengthAdjust="spacingAndGlyphs">K0</text>
<text x="572.6" y="895.3" textLength="9" lengthAdjust="spacingAndGlyphs">K1</text>
<text x="586.6" y="895.3" textLength="9.8" lengthAdjust="spacingAndGlyphs">K2</text>
<text x="599.8" y="895.3" textLength="9.1" lengthAdjust="spacingAndGlyphs">K0</text>
</g>
<path class="h" d="M568.1,884H577.2M581.7,884H591.5M595.3,884H604.4"/>
<path class="h" d="M546.8,885V890M543.6,890H550M544.6,892H549M545.6,894H548"/>
<circle class="kw" cx="469.4" cy="923.6" r="5.7"/><path class="m" d="M468.1,919V928M470.7,919V928M465,923.6H473.8"/>
<circle class="kw" cx="622.5" cy="923.6" r="5.7"/><path class="m" d="M621.2,919V928M623.8,919V928M618.1,923.6H626.9"/>
<circle class="k" cx="545.9" cy="939.5" r="19.3"/>
<circle class="m" cx="545.9" cy="939.5" r="18"/>
<line class="c" x1="518.2" y1="939.5" x2="573.8" y2="939.5"/>
<!-- D-sub B -->
<rect class="kw" x="607.3" y="830.6" width="32.7" height="79.9" rx="3"/>
<circle class="m" cx="623.7" cy="837.9" r="4"/>
<circle class="m" cx="623.7" cy="902.5" r="4"/>
<path class="k" d="M612,850.5Q612,847 616,847L633,847Q636,847 635.8,851L634.5,889Q634,892.5 630.5,892.3L616,889Q612.3,888.3 612.3,885Z"/>
<g class="m"><circle cx="620.3" cy="856.7" r="1.6"/><circle cx="620.3" cy="866.3" r="1.6"/><circle cx="620.3" cy="874.2" r="1.6"/><circle cx="620.3" cy="882.1" r="1.6"/><circle cx="627.7" cy="855.4" r="1.6"/><circle cx="627.7" cy="863.5" r="1.6"/><circle cx="627.7" cy="870.8" r="1.6"/><circle cx="627.7" cy="877.6" r="1.6"/><circle cx="627.7" cy="884.9" r="1.6"/></g>
<!-- gland B -->
<rect class="kw" x="519.3" y="1008.7" width="54.5" height="11.3"/>
<path class="m" d="M531.8,1008.7V1020M560.6,1008.7V1020"/>
<path class="kw" d="M522.7,1020H570.4V1033Q570.4,1037.5 566,1037.5H527Q522.7,1037.5 522.7,1033Z"/>
<line class="c" x1="545.9" y1="728" x2="545.9" y2="1040"/>
<line class="c" x1="408" y1="870.8" x2="689.4" y2="870.8"/>

<!-- ================= VIEW C ================= -->
<text x="847.5" y="704.6" font-size="23.5" text-anchor="middle" textLength="50" lengthAdjust="spacingAndGlyphs">View C</text>
<circle class="k" cx="851" cy="870.8" r="136"/>
<circle class="m" cx="851" cy="870.8" r="131.9"/>
<circle class="c" cx="851" cy="870.8" r="122.8"/>
<circle class="k" cx="851" cy="870.8" r="107"/>
<circle class="k" cx="851" cy="870.8" r="101.5"/>
<path class="h" d="M776.7,796.6L751.9,772M903.8,780.1L921.4,749.8M925.1,796.5L949.8,771.7M760.1,923.3L729.8,940.8M776.7,945L751.9,969.6M925.1,945.1L949.8,969.9"/>
<g>
<circle class="kw" cx="764.6" cy="784.6" r="5.7"/><path class="h" d="M761,781L768.2,788.2M768.2,781L761,788.2"/>
<circle class="kw" cx="937" cy="784.6" r="5.7"/><path class="h" d="M933.4,781L940.6,788.2M940.6,781L933.4,788.2"/>
<circle class="kw" cx="912.7" cy="764.9" r="5.7"/><path class="h" d="M909.1,761.3L916.3,768.5M916.3,761.3L909.1,768.5"/>
<circle class="kw" cx="744.9" cy="932" r="5.7"/><path class="h" d="M741.3,928.4L748.5,935.6M748.5,928.4L741.3,935.6"/>
<circle class="kw" cx="764.6" cy="957" r="5.7"/><path class="h" d="M761,953.4L768.2,960.6M768.2,953.4L761,960.6"/>
<circle class="kw" cx="937" cy="957" r="5.7"/><path class="h" d="M933.4,953.4L940.6,960.6M940.6,953.4L933.4,960.6"/>
</g>
<text x="975.7" y="736" font-size="20" text-anchor="middle" textLength="55.6" lengthAdjust="spacingAndGlyphs">Fixing pin</text>
<line class="h" x1="941.1" y1="744.9" x2="1008" y2="744.9"/>
<line class="h" x1="941.1" y1="744.9" x2="918.4" y2="758.5"/>
<!-- D-sub C -->
<rect class="kw" x="757.4" y="829.5" width="33.5" height="81.7" rx="3"/>
<circle class="m" cx="773.7" cy="837.9" r="4"/>
<circle class="m" cx="773.7" cy="902.5" r="4"/>
<path class="k" d="M762.5,851Q762.5,847 766.5,847L783,847Q786.5,847 786.4,850.5L786,889Q786,893 782,893.2L767,891Q763,890.5 763,887Z"/>
<g class="m"><circle cx="769.9" cy="856.5" r="1.6"/><circle cx="769.9" cy="864" r="1.6"/><circle cx="769.9" cy="870.8" r="1.6"/><circle cx="769.9" cy="877.6" r="1.6"/><circle cx="769.9" cy="884.9" r="1.6"/><circle cx="777.4" cy="859.9" r="1.6"/><circle cx="777.4" cy="867.4" r="1.6"/><circle cx="777.4" cy="874.6" r="1.6"/><circle cx="777.4" cy="881.7" r="1.6"/></g>
<line class="c" x1="773.7" y1="820.9" x2="773.7" y2="918.4"/>
<!-- hub -->
<circle class="k" cx="851" cy="870.8" r="45.9"/>
<polygon class="k" points="877.4,870.8 864.2,893.7 837.8,893.7 824.6,870.8 837.8,847.9 864.2,847.9"/>
<circle class="k" cx="851" cy="870.8" r="24"/>
<circle class="m" cx="851" cy="870.8" r="20"/>
<circle class="k" cx="851" cy="870.8" r="10.8"/>
<circle class="m" cx="851" cy="870.8" r="9"/>
<!-- side pin -->
<path class="k" d="M987.6,882L987.6,857L999.8,857"/>
<rect class="k" x="995.5" y="856" width="4.3" height="56.7"/>
<rect class="m" x="999.8" y="861.7" width="5.9" height="18.2"/>
<rect class="k" x="996.6" y="893.5" width="9.1" height="18.1"/>
<path class="m" d="M998.5,911.6V995.5M1002.8,911.6V995.5"/>
<path class="h" d="M1000.6,912V995" stroke-dasharray="2 1.5"/>
<line class="c" x1="851" y1="731" x2="851" y2="1009"/>
<line class="c" x1="708.8" y1="870.8" x2="1012" y2="870.8"/>

<!-- ================= MATING SHAFT ================= -->
<path class="k" d="M114.5,808.4H146.3V881H111.1"/>
<path class="m" d="M114.5,808.4C101,832 117,852 111.1,881"/>
<path class="k" d="M146.3,824.3H282L284.6,827V863L282,865.8H146.3"/>
<rect class="m" x="233.6" y="837.9" width="49.9" height="15.2"/>
<path class="h" d="M233.6,837.9L230.2,845.4L233.6,853.1"/>
<line class="k" x1="242.2" y1="837.9" x2="242.2" y2="853.1"/>
<line class="c" x1="103.2" y1="845.4" x2="288" y2="845.4"/>
<path class="h" d="M81.6,808.4H109M81.6,881H109"/>
<line class="h" x1="88" y1="808.4" x2="88" y2="881" marker-start="url(#a)" marker-end="url(#a)"/>
<text transform="translate(82.5,844.7) rotate(-90)" font-size="21" text-anchor="middle" textLength="27.2" lengthAdjust="spacingAndGlyphs">Ød1</text>
<path class="h" d="M146.3,768.7V822M284.6,768.7V822"/>
<line class="h" x1="146.3" y1="775.5" x2="284.6" y2="775.5" marker-start="url(#a)" marker-end="url(#a)"/>
<text x="216.5" y="772" font-size="21" text-anchor="middle" textLength="9" lengthAdjust="spacingAndGlyphs">L</text>
<text x="221.1" y="804" font-size="21" text-anchor="middle" textLength="20.4" lengthAdjust="spacingAndGlyphs">M6</text>
<line class="h" x1="212" y1="806.1" x2="229" y2="806.1"/>
<line class="h" x1="229" y1="806.1" x2="257.4" y2="837.9" marker-end="url(#a)"/>
<path class="h" d="M286.9,824.3H325.4M286.9,865.8H325.4"/>
<line class="h" x1="318.6" y1="764.2" x2="318.6" y2="824.3"/>
<line class="h" x1="318.6" y1="824.3" x2="318.6" y2="865.8" marker-start="url(#a)" marker-end="url(#a)"/>
<text transform="translate(316.5,793.7) rotate(-90)" font-size="21" text-anchor="middle" textLength="43" lengthAdjust="spacingAndGlyphs">Ød h6</text>
<path class="h" d="M242.2,852.6V894.6M284.6,866V894.6"/>
<line class="h" x1="242.2" y1="887.8" x2="284.6" y2="887.8" marker-start="url(#a)" marker-end="url(#a)"/>
<text x="263.1" y="885.5" font-size="20" text-anchor="middle" textLength="15.9" lengthAdjust="spacingAndGlyphs">16</text>
<text x="213.2" y="920.5" font-size="19" text-anchor="middle" textLength="163" lengthAdjust="spacingAndGlyphs">Recommended mating shaft</text>
</svg>
</body></html>
